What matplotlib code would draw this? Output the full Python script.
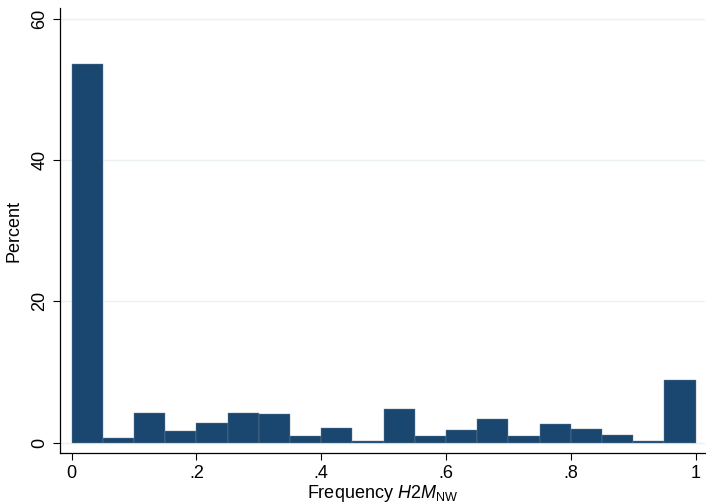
import matplotlib
matplotlib.use("Agg")
import matplotlib.pyplot as plt
import numpy as np

plt.rcParams['font.family'] = ['Liberation Sans', 'DejaVu Sans']
plt.rcParams['mathtext.fontset'] = 'custom'
plt.rcParams['mathtext.rm'] = 'Liberation Sans'
plt.rcParams['mathtext.it'] = 'Liberation Sans:italic'

bin_edges = np.linspace(0, 1, 21)
percent = [53.6, 0.6, 4.2, 1.65, 2.8, 4.15, 4.05, 1.0, 2.05, 0.3,
           4.7, 1.0, 1.75, 3.35, 0.9, 2.6, 2.0, 1.05, 0.3, 8.9]
xticks = [0, 0.2, 0.4, 0.6, 0.8, 1.0]
xtick_labels = ["0", ".2", ".4", ".6", ".8", "1"]
yticks = [0, 20, 40, 60]

fig = plt.figure(figsize=(7.06, 5.04), dpi=100)
ax = fig.add_axes([60/706, 1-453/504, 645/706, (453-8)/504])

ax.bar(bin_edges[:-1], percent, width=np.diff(bin_edges), align='edge',
       color='#1a476f', edgecolor='#6f859a', linewidth=0.3, zorder=3)

ax.set_xlim(-0.0187, 1.015)
ax.set_ylim(-1.46, 61.5)
ax.set_yticks(yticks)
ax.set_yticklabels([str(v) for v in yticks], rotation=90, va='center')
ax.set_xticks(xticks)
ax.set_xticklabels(xtick_labels)
ax.tick_params(axis='both', labelsize=13, length=5, width=0.8, color='black')
ax.grid(axis='y', color='#eaf2f3', linewidth=1, zorder=0)
for s in ['top', 'right']:
    ax.spines[s].set_visible(False)
for s in ['left', 'bottom']:
    ax.spines[s].set_linewidth(0.9)
ax.set_ylabel("Percent", fontsize=13, labelpad=6)
ax.set_xlabel(r"Frequency $\mathit{H2M}_{\mathrm{NW}}$", fontsize=13, labelpad=1)

fig.savefig("out.png", dpi=100)
